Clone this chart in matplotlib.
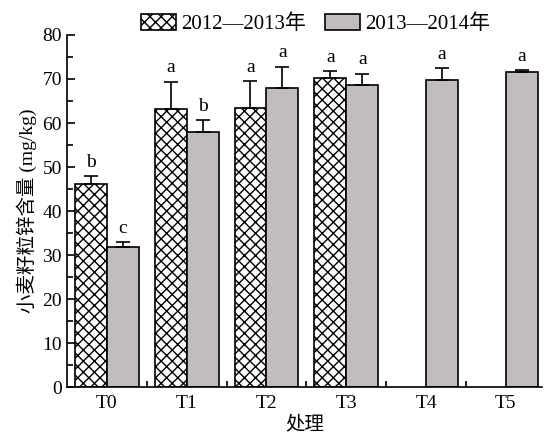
import matplotlib.pyplot as plt
import numpy as np
from matplotlib.patches import Patch

plt.rcParams['font.family'] = ['Liberation Serif', 'Noto Sans CJK SC']
plt.rcParams['hatch.linewidth'] = 1.0

# data
groups = ['T0', 'T1', 'T2', 'T3', 'T4', 'T5']
zn_2012 = [46.1, 63.1, 63.3, 70.2, np.nan, np.nan]
err_2012 = [1.9, 6.3, 6.2, 1.6, 0, 0]
zn_2013 = [31.8, 58.0, 67.9, 68.7, 69.8, 71.5]
err_2013 = [1.2, 2.7, 4.9, 2.5, 2.7, 0.5]
sig_2012 = ['b', 'a', 'a', 'a', '', '']
sig_2013 = ['c', 'b', 'a', 'a', 'a', 'a']
labels = ['2012\u20142013年', '2013\u20142014年']

gray = '#c0bcc0'

fig = plt.figure(figsize=(5.44, 4.38), dpi=100)
ax = fig.add_axes([0.123, 0.1164, 0.873, 0.8037])

x = np.arange(len(groups))
w = 0.4

ax.bar(x - w / 2, zn_2012, w, color='white', edgecolor='black', hatch='xxx', linewidth=1.2)
ax.bar(x + w / 2, zn_2013, w, color=gray, edgecolor='black', linewidth=1.2)

ekw = dict(fmt='none', ecolor='black', elinewidth=1.2, capsize=5, capthick=1.2)
ax.errorbar(x - w / 2, zn_2012, yerr=[np.zeros(6), err_2012], **ekw)
ax.errorbar(x + w / 2, zn_2013, yerr=[np.zeros(6), err_2013], **ekw)

for i in range(len(groups)):
    if sig_2012[i]:
        ax.text(x[i] - w / 2, zn_2012[i] + err_2012[i] + 1.2, sig_2012[i],
                ha='center', va='bottom', fontsize=14)
    ax.text(x[i] + w / 2, zn_2013[i] + err_2013[i] + 1.2, sig_2013[i],
            ha='center', va='bottom', fontsize=14)

ax.set_xlim(-0.5, 5.45)
ax.set_ylim(0, 80)
ax.set_xticks(x)
ax.set_xticklabels(groups, fontsize=14)
ax.set_xticks(x[:-1] + 0.5, minor=True)
ax.set_yticks(np.arange(0, 81, 10))
ax.set_yticks(np.arange(5, 80, 10), minor=True)
ax.tick_params(axis='y', which='major', direction='in', length=6, width=1.2, labelsize=14)
ax.tick_params(axis='y', which='minor', direction='in', length=4, width=1.2)
ax.tick_params(axis='x', which='major', length=0, pad=6, labelsize=14)
ax.tick_params(axis='x', which='minor', direction='in', length=4, width=1.2)

ax.spines['top'].set_visible(False)
ax.spines['right'].set_visible(False)
ax.spines['left'].set_linewidth(1.2)
ax.spines['bottom'].set_linewidth(1.2)

ax.set_xlabel('处理', fontsize=14, labelpad=2)
ax.set_ylabel('小麦籽粒锌含量 (mg/kg)', fontsize=14, labelpad=4)

handles = [Patch(facecolor='white', edgecolor='black', hatch='xxx', linewidth=1.2),
           Patch(facecolor=gray, edgecolor='black', linewidth=1.2)]
fig.legend(handles, labels, loc='upper center', bbox_to_anchor=(0.58, 1.01), ncol=2,
           frameon=False, fontsize=15, handlelength=1.7, handleheight=0.75,
           handletextpad=0.25, columnspacing=0.9)

fig.savefig('out.png', dpi=100)
